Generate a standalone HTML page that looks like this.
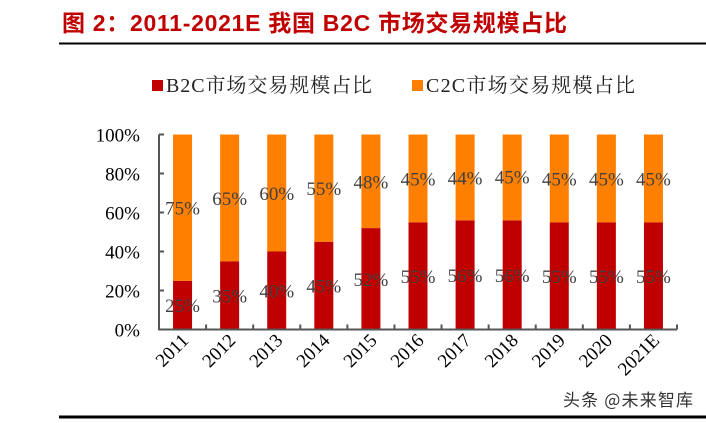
<!DOCTYPE html>
<html><head><meta charset="utf-8"><style>
body{margin:0;background:#fff;width:706px;height:423px;overflow:hidden}
svg{display:block}
</style></head><body>
<svg width="706" height="423">
<text x="62" y="31" textLength="505" lengthAdjust="spacing" font-family="Liberation Sans,'Noto Sans CJK SC',sans-serif" font-size="23" font-weight="bold" fill="#C00000">图 2：2011-2021E 我国 B2C 市场交易规模占比</text>
<line x1="59" y1="43.5" x2="706" y2="43.5" stroke="#000" stroke-width="2"/>
<g font-family="Liberation Serif,'Noto Serif CJK SC',serif" font-size="20" fill="#222">
<rect x="152" y="80" width="11" height="11" fill="#C00000"/>
<text x="166" y="92" textLength="206" lengthAdjust="spacing">B2C市场交易规模占比</text>
<rect x="412" y="80" width="11" height="11" fill="#FF8000"/>
<text x="426" y="92" textLength="209" lengthAdjust="spacing">C2C市场交易规模占比</text>
</g>
<g id="plot"></g>
<line x1="59" y1="417" x2="706" y2="417" stroke="#000" stroke-width="3"/>
<text x="563" y="406" textLength="130" font-family="'Noto Sans CJK SC',sans-serif" font-size="17" fill="#333">头条 @未来智库</text>
</svg>
<script>
const categories=["2011","2012","2013","2014","2015","2016","2017","2018","2019","2020","2021E"];
const b2c=[25,35,40,45,52,55,56,56,55,55,55];
const c2c=[75,65,60,55,48,45,44,45,45,45,45];
const yTicks=[0,20,40,60,80,100];
const NS="http://www.w3.org/2000/svg";
const g=document.getElementById('plot');
const x0=159,x1=677,y0=329.5,y1=134.5;
const band=(x1-x0)/categories.length;
const bw=19;
function y(v){return y0-(Math.min(v,100)/100)*(y0-y1);}
function xc(i){return x0+band*(i+0.5);}
function mk(t,a){const e=document.createElementNS(NS,t);for(const k in a)e.setAttribute(k,a[k]);g.appendChild(e);return e;}
categories.forEach((c,i)=>{
  const r1=mk('rect',{x:xc(i)-bw/2,y:y(b2c[i]),width:bw,height:y0-y(b2c[i]),fill:'#C00000'});
  
  
  const r2=mk('rect',{x:xc(i)-bw/2,y:y(b2c[i]+c2c[i]),width:bw,height:y(b2c[i])-y(b2c[i]+c2c[i]),fill:'#FF8000'});
  
  
  const l1=mk('text',{x:xc(i),y:y(b2c[i]/2)+7,'text-anchor':'middle','font-family':'Liberation Serif,serif','font-size':19,fill:'#404040'});
  l1.textContent=b2c[i]+'%';
  
  
  const l2=mk('text',{x:xc(i),y:y(b2c[i]+c2c[i]/2)+7,'text-anchor':'middle','font-family':'Liberation Serif,serif','font-size':19,fill:'#404040'});
  l2.textContent=c2c[i]+'%';
  
  
  const xt=mk('text',{x:0,y:0,transform:`translate(${xc(i)+7},${y0+12}) rotate(-45)`,'text-anchor':'end','font-family':'Liberation Serif,serif','font-size':19,fill:'#000'});
  xt.textContent=c;
  
  
});
const ax=mk('path',{d:`M${x0},${y1}V${y0}H${x1}`,stroke:'#555',fill:'none','stroke-width':2});


for(let i=0;i<=categories.length;i++){
  const t=mk('line',{x1:x0+band*i,x2:x0+band*i,y1:y0,y2:y0-5,stroke:'#555','stroke-width':2});
  
  
}
yTicks.forEach(v=>{
  const t=mk('line',{x1:x0,x2:x0+5,y1:y(v),y2:y(v),stroke:'#555','stroke-width':2});
  
  
  const l=mk('text',{x:x0-19,y:y(v)+7,'text-anchor':'end','font-family':'Liberation Serif,serif','font-size':19,fill:'#000'});
  l.textContent=v+'%';
  
  
});
</script>
</body></html>
